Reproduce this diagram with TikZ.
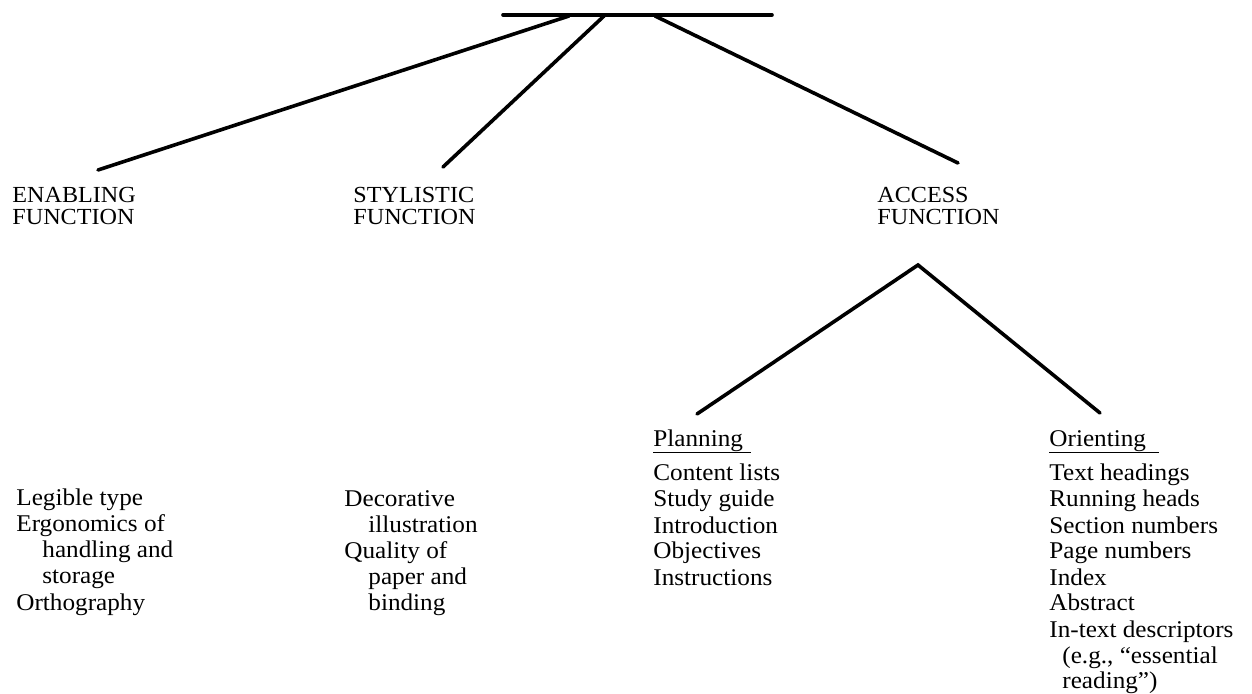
\documentclass[tikz,border=0pt]{standalone}
\usepackage{fontspec}
\setmainfont{Liberation Serif}[FakeStretch=1.05]
\begin{document}
\begin{tikzpicture}[x=0.5pt,y=-0.5pt,
  branch/.style={line width=1.8pt, line cap=round},
  head/.style={anchor=base west, inner sep=0pt, font=\fontsize{11.5}{11}\selectfont},
  listtxt/.style={anchor=base west, inner sep=0pt, font=\fontsize{12}{13}\selectfont},
  uline/.style={line width=0.7pt}]
\useasboundingbox (0,0) rectangle (1252,694);

% top bar and branches
\coordinate (barL) at (503,15);
\coordinate (barR) at (772,15);
\draw[branch] (barL) -- (barR);
\coordinate (oE) at (569,16);
\coordinate (oS) at (604,16);
\coordinate (oA) at (655,16);
\coordinate (eE) at (98,170);
\coordinate (eS) at (443,167);
\coordinate (eA) at (958,163);
\draw[branch] (oE) -- (eE);
\draw[branch] (oS) -- (eS);
\draw[branch] (oA) -- (eA);

% headings
\node[head] (enab) at (12,203) {\begin{tabular}[t]{@{}l@{}}ENABLING\\FUNCTION\end{tabular}};
\node[head] (styl) at (353,203) {\begin{tabular}[t]{@{}l@{}}STYLISTIC\\FUNCTION\end{tabular}};
\node[head] (acc) at (877,203) {\begin{tabular}[t]{@{}l@{}}ACCESS\\FUNCTION\end{tabular}};

% access sub-tree
\coordinate (peak) at (918,265);
\coordinate (eP) at (697,414);
\coordinate (eO) at (1100,413);
\draw[branch] (eP) -- (peak) -- (eO);

% lists
\node[listtxt] (enlist) at (16,506) {\begin{tabular}[t]{@{}l@{}}Legible type\\Ergonomics of\\\hspace*{13pt}handling and\\\hspace*{13pt}storage\\Orthography\end{tabular}};
\node[listtxt] (stlist) at (344,507) {\begin{tabular}[t]{@{}l@{}}Decorative\\\hspace*{12pt}illustration\\Quality of\\\hspace*{12pt}paper and\\\hspace*{12pt}binding\end{tabular}};

\node[listtxt] (planhead) at (653,447) {Planning};
\draw[uline] ([yshift=-2.8pt]planhead.base west) -- ++(98,0);
\node[listtxt] (planlist) at (653,481) {\begin{tabular}[t]{@{}l@{}}Content lists\\Study guide\\Introduction\\Objectives\\Instructions\end{tabular}};

\node[listtxt] (orhead) at (1049,447) {Orienting};
\draw[uline] ([yshift=-2.8pt]orhead.base west) -- ++(110,0);
\node[listtxt] (orlist) at (1049,481) {\begin{tabular}[t]{@{}l@{}}Text headings\\Running heads\\Section numbers\\Page numbers\\Index\\Abstract\\In-text descriptors\\\hspace*{6.5pt}(e.g., ``essential\\\hspace*{6.5pt}reading'')\end{tabular}};
\end{tikzpicture}
\end{document}
